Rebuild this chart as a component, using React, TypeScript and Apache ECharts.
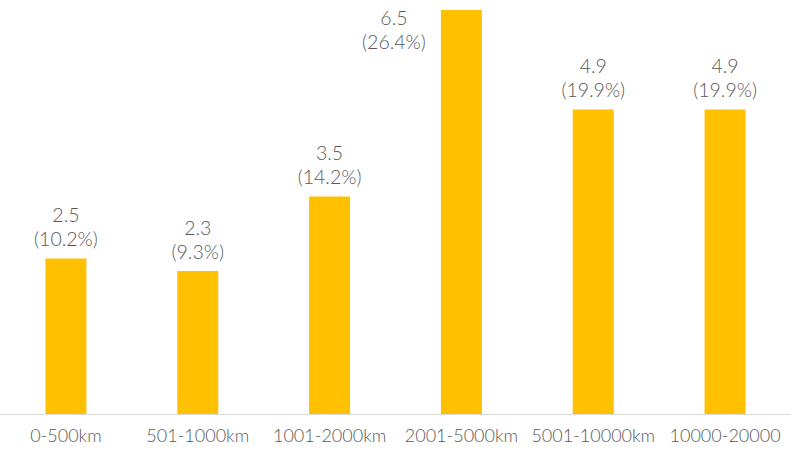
import React, { useEffect, useRef } from "react";
import * as echarts from "echarts";

const categories = ["0-500km", "501-1000km", "1001-2000km", "2001-5000km", "5001-10000km", "10000-20000"];
const values = [2.5, 2.3, 3.5, 6.5, 4.9, 4.9];
const percents = ["10.2%", "9.3%", "14.2%", "26.4%", "19.9%", "19.9%"];

const FONT = "Lato, 'Noto Sans', sans-serif";
const TEXT = "#595959";

export default function App() {
  const ref = useRef<HTMLDivElement>(null);
  useEffect(() => {
    const chart = echarts.init(ref.current!, null, { renderer: "svg" });
    const maxIdx = values.indexOf(Math.max(...values));
    chart.setOption({
      animation: false,
      grid: { left: 0, right: 0, top: 10, bottom: 36 },
      xAxis: {
        type: "category",
        data: categories,
        axisLine: { show: true, lineStyle: { color: "#d9d9d9", width: 1 } },
        axisTick: { show: false },
        axisLabel: { color: TEXT, fontSize: 18, fontWeight: 300, fontFamily: FONT, margin: 12, interval: 0 },
      },
      yAxis: {
        type: "value",
        min: 0,
        max: 6.5,
        show: false,
        splitLine: { show: false },
      },
      series: [
        {
          type: "bar",
          barWidth: 41,
          itemStyle: { color: "#FFC000" },
          data: values.map((v, i) => {
            const item: any = { value: v };
            if (i === maxIdx) {
              item.label = { position: [-47, -5], align: "center", verticalAlign: "top" };
            }
            return item;
          }),
          label: {
            show: true,
            position: "top",
            distance: 8,
            color: TEXT,
            fontSize: 19.5,
            fontWeight: 300,
            fontFamily: FONT,
            lineHeight: 24,
            align: "center",
            formatter: (p: any) => `${values[p.dataIndex]}\n(${percents[p.dataIndex]})`,
          },
        },
      ],
    });
    return () => chart.dispose();
  }, []);
  return <div ref={ref} style={{ width: 791, height: 450, position: "absolute", left: 0, top: 0 }} />;
}
